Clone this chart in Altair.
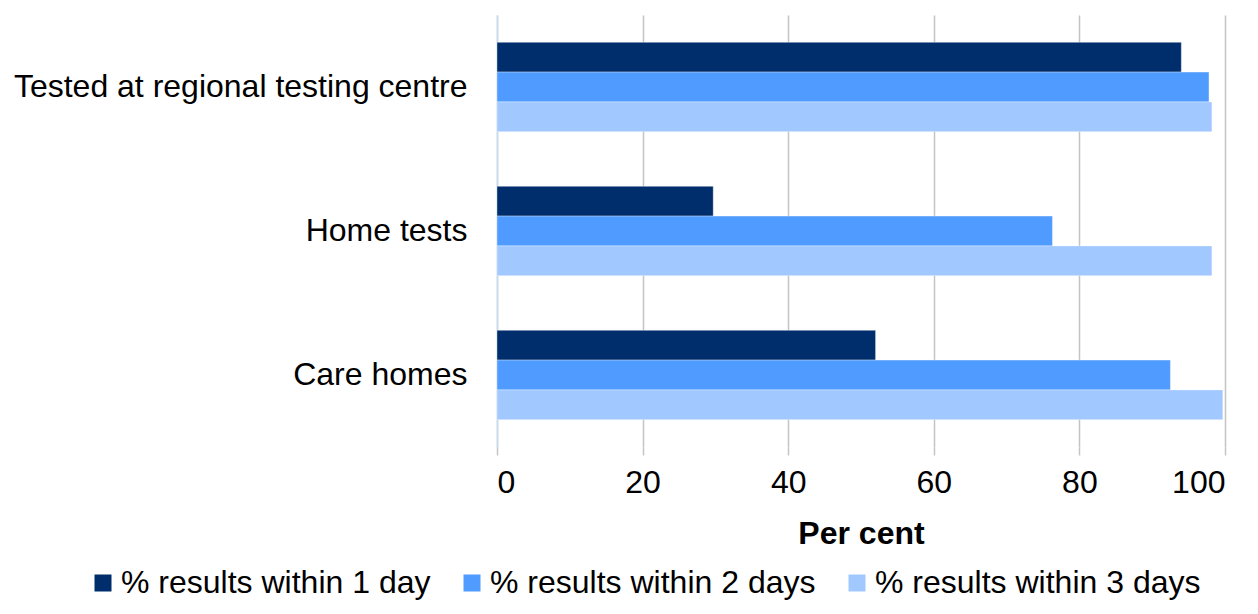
import altair as alt
import pandas as pd

categories = ["Tested at regional testing centre", "Home tests", "Care homes"]
series = ["% results within 1 day", "% results within 2 days", "% results within 3 days"]
within_1_day = [94.0, 29.7, 52.0]
within_2_days = [97.8, 76.3, 92.5]
within_3_days = [98.2, 98.2, 99.7]
colors = ["#002D6B", "#4F9BFF", "#A1C8FF"]

rows = []
for i, c in enumerate(categories):
    for s, vals in zip(series, [within_1_day, within_2_days, within_3_days]):
        rows.append({"category": c, "series": s, "value": vals[i]})
df = pd.DataFrame(rows)

font = "Liberation Sans"
fs = 32

chart = alt.Chart(df).mark_bar(stroke="white", strokeOpacity=0.35, strokeWidth=1).encode(
    x=alt.X("value:Q", scale=alt.Scale(domain=[0, 100], nice=False),
            axis=alt.Axis(values=[0, 20, 40, 60, 80, 100], title="Per cent",
                          grid=True, gridColor="#c4c4c4", gridWidth=1.5,
                          domain=False, ticks=True, tickColor="#c4c4c4", tickSize=8, tickWidth=1.5,
                          labelFontSize=fs, labelFont=font, labelColor="black", labelPadding=12,
                          titleFontSize=fs, titleFont=font, titleFontWeight="bold", titleColor="black",
                          titlePadding=20)),
    y=alt.Y("category:N", sort=categories,
            scale=alt.Scale(paddingInner=0.38, paddingOuter=0.19),
            axis=alt.Axis(title=None, ticks=False, domain=True, domainColor="#c6dcf2", domainWidth=1.5,
                          labelFontSize=fs, labelFont=font, labelColor="black", labelPadding=30,
                          labelLimit=700)),
    yOffset=alt.YOffset("series:N", sort=series),
    color=alt.Color("series:N", sort=series,
                    scale=alt.Scale(domain=series, range=colors),
                    legend=alt.Legend(title=None, orient="none", legendX=-410, legendY=552,
                                      direction="horizontal", symbolType="square", symbolSize=289,
                                      symbolStrokeWidth=0, labelFontSize=fs, labelFont=font,
                                      labelColor="black", columnPadding=25, labelOffset=2,
                                      labelLimit=700)),
).properties(
    width=728, height=432,
    autosize=alt.AutoSizeParams(type="none"),
    padding={"left": 489, "top": 7, "right": 25, "bottom": 155},
).configure_view(stroke=None)

chart.save("out.html", embed_options={"renderer": "svg", "actions": False})
